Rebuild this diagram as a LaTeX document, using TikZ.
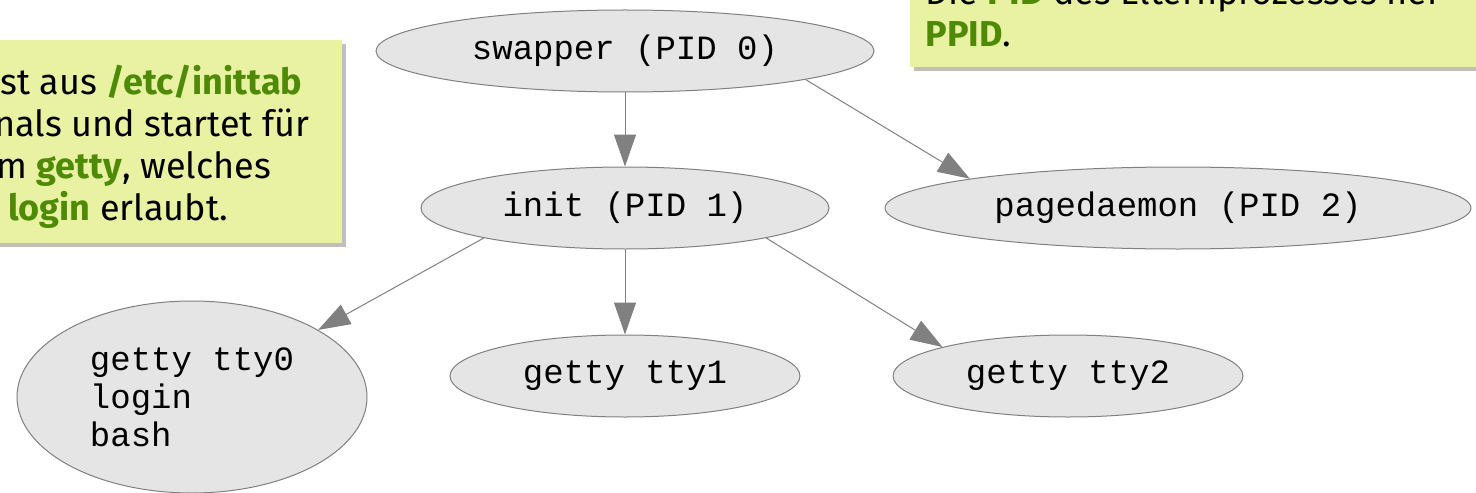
\documentclass[tikz,border=0pt]{standalone}
\usepackage{xcolor}
\usepackage{fontspec}
\setmainfont{Fira Sans}
\setmonofont{Liberation Mono}
\usepackage{tikz}
\usetikzlibrary{arrows.meta}
\usetikzlibrary{shapes.geometric}
\usetikzlibrary{shadows}
\definecolor{procfill}{RGB}{229,229,229}
\definecolor{procline}{RGB}{128,128,128}
\definecolor{notefill}{RGB}{232,242,162}
\definecolor{notegreen}{RGB}{78,138,6}
\definecolor{noteshadow}{RGB}{192,192,192}
\newcommand{\keyw}[1]{\textcolor{notegreen}{\textbf{#1}}}

\begin{document}
\begin{tikzpicture}[x=0.5pt, y=-0.5pt,
		proc/.style={ellipse, draw=procline, fill=procfill, line width=0.5pt, inner sep=0pt, minimum height=41pt, font=\ttfamily\fontsize{17}{19}\selectfont},
		edge/.style={draw=procline, line width=0.5pt, -{Triangle[length=16pt, width=11pt]}},
		notebox/.style={rectangle, fill=notefill, inner sep=0pt, drop shadow={shadow xshift=2pt, shadow yshift=-2pt, fill=noteshadow, opacity=1}},
		notetext/.style={inner sep=0pt, align=left, font=\fontsize{18}{21}\selectfont}]
	\useasboundingbox (0,0) rectangle (1476,492);
	\clip (0,0) rectangle (1476,492);
	% notes
	\node[notebox, minimum width=181pt, minimum height=101.5pt, anchor=north east] (inittabbox) at (342,40) {};
	\node[notebox, minimum width=295pt, minimum height=43.5pt, anchor=south west] (pidbox) at (910,67) {};
	\node[notetext, anchor=north west] (inittabtext) at (0,65) {st aus \keyw{/etc/inittab}\\\hspace*{-3pt}nals und startet für\\\hspace*{-2pt}m \keyw{getty}, welches\\\hspace*{4pt}\keyw{login} erlaubt.};
	\node[notetext, anchor=north west] (pidtext) at (925,-24) {Die \keyw{PID} des Elternprozesses hei\\\keyw{PPID}.};
	% process tree
	\foreach \name/\x/\y/\w/\txt in {swapper/625/51/249/swapper (PID 0), init/625/208/204/init (PID 1), pagedaemon/1178/208/293/pagedaemon (PID 2), tty1/625/376/175/getty tty1, tty2/1068/376/175/getty tty2}
	{
		\node[proc, minimum width=\w pt] (\name) at (\x,\y) {\txt};
	}
	\node[proc, minimum width=175pt, minimum height=96pt, align=left] (tty0) at (192,397) {getty tty0\\login\\bash};
	\draw[edge] (swapper) -- (init);
	\draw[edge] (swapper.-9) -- (pagedaemon.172);
	\draw[edge] (init.192) -- (tty0.28);
	\draw[edge] (init) -- (tty1);
	\draw[edge] (init.-12) -- (tty2.167);
\end{tikzpicture}
\end{document}
